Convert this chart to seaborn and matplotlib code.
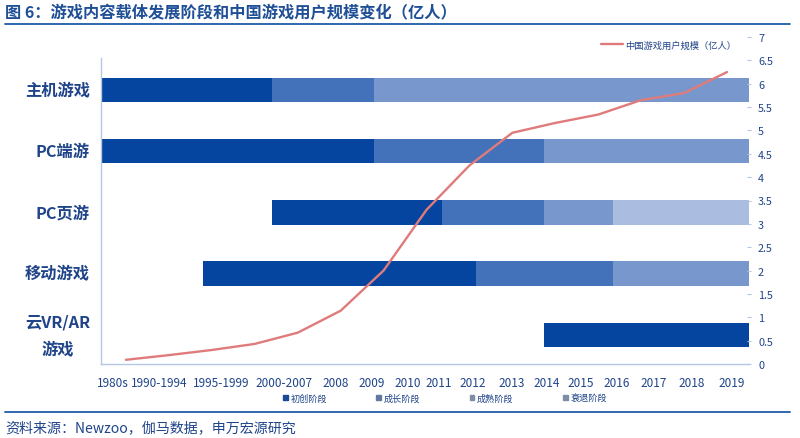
import matplotlib
matplotlib.use("Agg")
import matplotlib.pyplot as plt
from matplotlib.lines import Line2D
from matplotlib.patches import Patch
import numpy as np
import pandas as pd
import seaborn as sns

platforms = ["主机游戏", "PC端游", "PC页游", "移动游戏", "云VR/AR\n游戏"]
stages = ["初创阶段", "成长阶段", "成熟阶段", "衰退阶段"]

# bar lengths in years since the start of the axis (1980s = 0, right edge = 19)
start_offset = [0, 0, 5, 3, 13]
stage_startup = [5, 8, 5, 8, 6]
stage_growth = [3, 5, 3, 4, 0]
stage_mature = [11, 6, 2, 4, 0]
stage_decline = [0, 0, 4, 0, 0]

users = [0.09, 0.19, 0.30, 0.43, 0.67, 1.14, 2.0, 3.3, 4.25, 4.95,
         5.16, 5.34, 5.65, 5.8, 6.25]
year_labels = ["1980s", "1990-1994", "1995-1999", "2000-2007", "2008", "2009", "2010", "2011",
               "2012", "2013", "2014", "2015", "2016", "2017", "2018", "2019"]
user_ticks = [0, 0.5, 1, 1.5, 2, 2.5, 3, 3.5, 4, 4.5, 5, 5.5, 6, 6.5, 7]

title = "图 6：游戏内容载体发展阶段和中国游戏用户规模变化（亿人）"
source = "资料来源：Newzoo，伽马数据，申万宏源研究"
line_label = "中国游戏用户规模（亿人）"

stage_colors = ["#05459f", "#4371ba", "#7897cc", "#aabde0"]
legend_colors = ["#1c4a96", "#62789f", "#7f8ca6", "#7f8ca6"]
text_blue = "#1f4489"
axis_blue = "#b4c7e4"

sns.set_theme(style="white")
plt.rcParams["font.family"] = ["Noto Sans CJK SC", "DejaVu Sans"]

W, H = 800, 439
fig = plt.figure(figsize=(W / 100, H / 100), dpi=100)
rect = [101 / W, 1 - 365 / H, 648 / W, 327 / H]
ax = fig.add_axes(rect)

# stacked bars, each stage starts where the previous one ended
df = pd.DataFrame({"platform": platforms, "startup": stage_startup, "growth": stage_growth,
                   "mature": stage_mature, "decline": stage_decline})
left = np.array(start_offset, dtype=float)
for col, color in zip(["startup", "growth", "mature", "decline"], stage_colors):
    sns.barplot(data=df, y="platform", x=col, order=platforms, color=color, width=0.4,
                left=left, saturation=1, errorbar=None, linewidth=0, ax=ax)
    left = left + df[col].to_numpy()

ax.set_xlim(0, 19)
ax.set_ylim(4.475, -0.865)
ax.set_xlabel("")
ax.set_ylabel("")
ax.set_xticks([])
ax.tick_params(axis="y", length=0, pad=8)
for lab in ax.get_yticklabels():
    lab.set_fontsize(11.7)
    lab.set_fontweight("bold")
    lab.set_color(text_blue)
    lab.set_multialignment("center")
    lab.set_linespacing(1.9)
    lab.set_verticalalignment("center")
for side in ["top", "right"]:
    ax.spines[side].set_visible(False)
for side in ["left", "bottom"]:
    ax.spines[side].set_color(axis_blue)
    ax.spines[side].set_linewidth(1)
ax.spines["left"].set_bounds(4.475, -0.53)

# user line on its own axes, same rectangle, right hand scale
ax2 = fig.add_axes(rect, frameon=False)
point_idx = list(range(len(users)))
sns.lineplot(x=point_idx, y=users, color="#e07b7b", linewidth=1.7, ax=ax2, legend=False)
ax2.set_xlim(-0.58, 14.51)
ax2.set_ylim(0, 7)
ax2.set_xlabel("")
ax2.set_ylabel("")
ax2.yaxis.tick_right()
ax2.set_yticks(user_ticks)
ax2.set_yticklabels([f"{v:g}" for v in user_ticks], fontsize=7.8, color=text_blue)
ax2.tick_params(axis="y", length=3, width=0.8, color=axis_blue, direction="inout", pad=5)
ax2.spines["right"].set_visible(True)
ax2.spines["right"].set_color(axis_blue)
ax2.spines["right"].set_linewidth(1)

# the year labels are hand placed in the original, not evenly spaced
label_px = [113, 159, 221, 284, 336, 372, 408, 439, 473, 512, 547, 581, 617, 654, 692, 732]
ax2.set_xticks([(p - 126) / 42.93 for p in label_px])
ax2.set_xticklabels(year_labels, fontsize=8.5, color=text_blue)
ax2.tick_params(axis="x", length=0, pad=9)

fig.legend(handles=[Line2D([0], [0], color="#e07b7b", lw=1.7)], labels=[line_label],
           loc="center right", bbox_to_anchor=(736 / W, 1 - 46 / H), frameon=False,
           fontsize=6.7, labelcolor=text_blue, handlelength=2.4, handletextpad=0.2,
           borderpad=0, borderaxespad=0)
fig.legend(handles=[Patch(color=c) for c in legend_colors], labels=stages, ncol=4,
           loc="center", bbox_to_anchor=(445 / W, 1 - 399 / H), frameon=False,
           fontsize=6.6, labelcolor=text_blue, handlelength=0.5, handleheight=0.5,
           handletextpad=0.3, columnspacing=5.4, borderpad=0, borderaxespad=0)

# header and footer
fig.text(5 / W, 1 - 13 / H, title, fontsize=11.7, fontweight="bold", color="#1f4f96",
         ha="left", va="center")
fig.text(5 / W, 1 - 428 / H, source, fontsize=10.1, color=text_blue, ha="left", va="center")
for y in [24.5, 412.5]:
    fig.add_artist(Line2D([5 / W, 790 / W], [1 - y / H, 1 - y / H], color="#1f5aa8", lw=1.3))

fig.savefig("out.png", dpi=100)
